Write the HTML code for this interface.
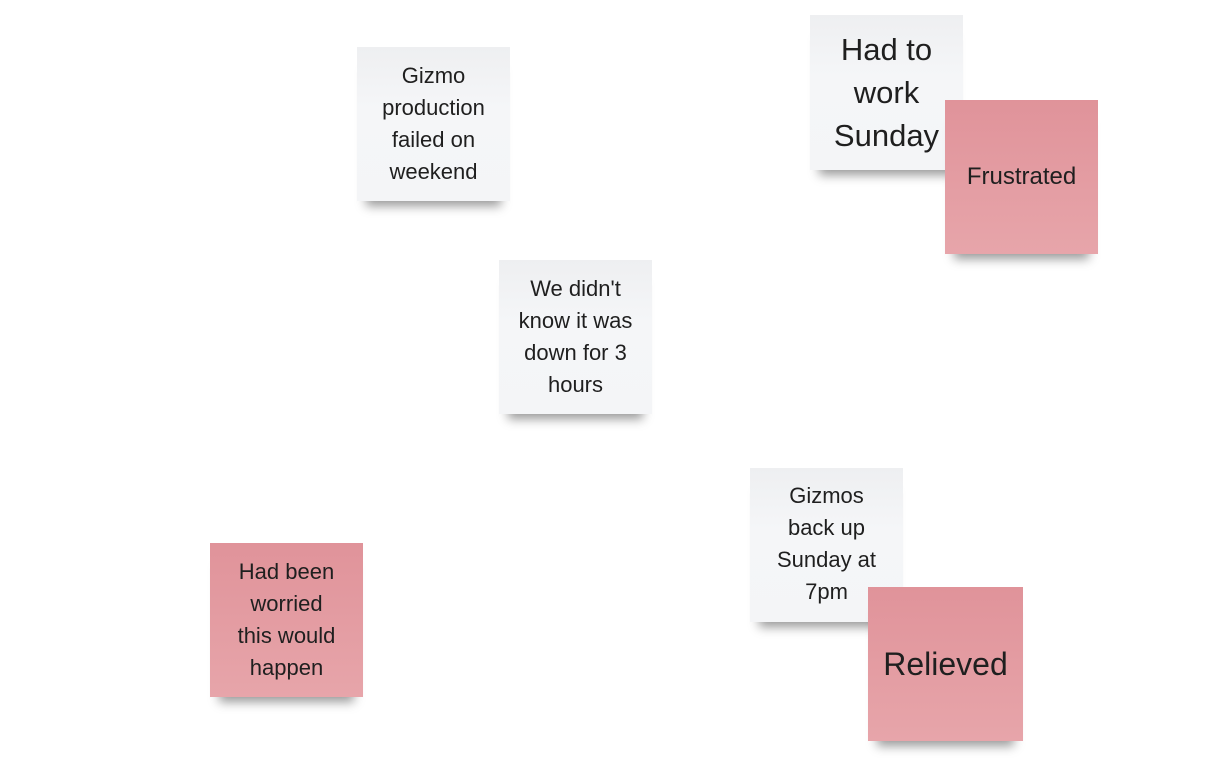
<!DOCTYPE html>
<html><head><meta charset="utf-8"><style>
html,body{margin:0;width:1230px;height:769px;background:#fff;overflow:hidden;font-family:"Liberation Sans","DejaVu Sans",sans-serif;}
.n{position:absolute;width:153px;height:154px;display:flex;align-items:center;justify-content:center;text-align:center;color:#1f1f1f;font-size:22px;line-height:32px;box-shadow:0 14px 10px -9px rgba(0,0,0,0.4);}
.w{background:linear-gradient(180deg,#eeeff1,#f5f6f8 40%,#f4f5f7);}
.p{background:linear-gradient(180deg,#e0939a,#e7a5aa);}
.big{font-size:31px;line-height:43px;}
</style></head><body>
<div class="n w" style="left:357px;top:47px;">Gizmo<br>production<br>failed on<br>weekend</div>
<div class="n w big" style="left:810px;top:15px;height:155px;">Had to<br>work<br>Sunday</div>
<div class="n p" style="left:945px;top:100px;font-size:24px;">Frustrated</div>
<div class="n w" style="left:499px;top:260px;">We didn't<br>know it was<br>down for 3<br>hours</div>
<div class="n w" style="left:750px;top:468px;height:154px;align-items:flex-start;padding-top:12px;box-sizing:border-box;">Gizmos<br>back up<br>Sunday at<br>7pm</div>
<div class="n p" style="left:210px;top:543px;">Had been<br>worried<br>this would<br>happen</div>
<div class="n p big" style="left:868px;top:587px;width:155px;font-size:32px;">Relieved</div>
</body></html>
